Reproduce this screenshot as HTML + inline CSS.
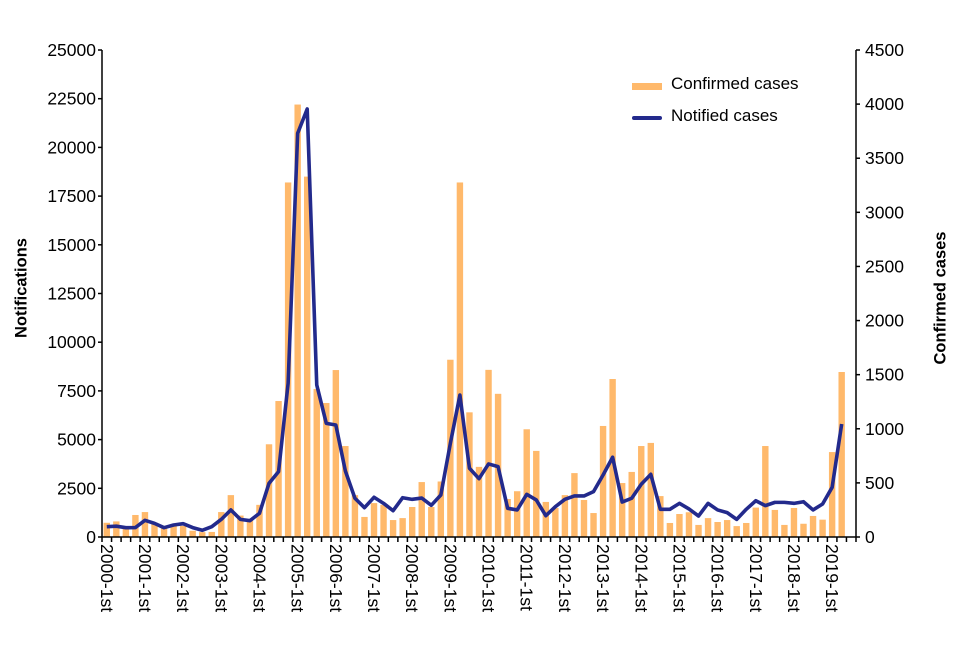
<!DOCTYPE html>
<html><head><meta charset="utf-8"><style>
body{margin:0;background:#fff;}
svg{font-family:"Liberation Sans",Arial,sans-serif;}
</style></head><body>
<svg id="c" width="960" height="640" viewBox="0 0 960 640"></svg>
<script>
const confirmedValues=[730,800,500,1130,1280,730,450,570,570,320,250,260,1280,2150,1100,900,1650,4760,6980,18200,22200,18500,7600,6880,8570,4670,2150,1030,1740,1650,870,970,1540,2820,1540,2850,9100,18200,6400,3600,8580,7350,1950,2350,5530,4420,1800,1490,2150,3280,1900,1230,5700,8110,2770,3340,4670,4830,2100,720,1180,1270,620,970,770,870,560,720,1510,4670,1390,620,1490,680,1080,890,4360,8470];
const notifiedValues=[95,100,86,87,154,126,86,111,123,87,62,95,163,250,163,151,219,496,604,1420,3730,3955,1405,1050,1035,610,358,271,367,311,243,363,348,360,293,388,866,1312,635,539,675,650,265,250,394,342,197,280,348,379,379,419,573,737,323,358,487,579,256,256,311,259,194,311,250,225,163,256,335,290,320,320,311,326,250,305,459,1044];
const yearLabels=[];for(let y=2000;y<=2019;y++)yearLabels.push(y+'-1st');
const leftTicks=[0,2500,5000,7500,10000,12500,15000,17500,20000,22500,25000];
const rightTicks=[0,500,1000,1500,2000,2500,3000,3500,4000,4500];
const NS='http://www.w3.org/2000/svg',svg=document.getElementById('c');
const X0=102,X1=856,Y0=537,Y1=50,nBands=79,bw=(X1-X0)/nBands;
const xC=i=>X0+bw*(i+0.5);
const yL=v=>Y0-(v/25000)*(Y0-Y1);
const yR=v=>Y0-(v/4500)*(Y0-Y1);
function mk(t,a,p){const e=document.createElementNS(NS,t);for(const k in a)e.setAttribute(k,a[k]);(p||svg).appendChild(e);return e;}
const bars=mk('g',{});


confirmedValues.forEach((v,i)=>{const r=mk('rect',{x:xC(i)-3.2,y:yL(v),width:6.4,height:Y0-yL(v),fill:'#ffb96b'},bars);

});
const pl=mk('polyline',{points:notifiedValues.map((v,i)=>xC(i)+','+yR(v)).join(' '),fill:'none',stroke:'#232a8c','stroke-width':3.6,'stroke-linejoin':'round'});


const ax=mk('g',{stroke:'#000','stroke-width':1.5});


mk('line',{x1:X0,y1:Y1,x2:X0,y2:Y0},ax);mk('line',{x1:X1,y1:Y1,x2:X1,y2:Y0},ax);mk('line',{x1:X0,y1:Y0,x2:X1,y2:Y0},ax);
for(let i=0;i<=nBands;i++)mk('line',{x1:X0+bw*i,y1:Y0,x2:X0+bw*i,y2:Y0+5},ax);
leftTicks.forEach(v=>{mk('line',{x1:X0-4,y1:yL(v),x2:X0,y2:yL(v)},ax);
const t=mk('text',{x:X0-6,y:yL(v)+6,'text-anchor':'end','font-size':17.5});t.textContent=v;

});
rightTicks.forEach(v=>{mk('line',{x1:X1,y1:yR(v),x2:X1+4,y2:yR(v)},ax);
const t=mk('text',{x:X1+9,y:yR(v)+6,'font-size':17.5});t.textContent=v;

});
yearLabels.forEach((l,k)=>{const x=xC(k*4)-6;const t=mk('text',{x:0,y:0,'font-size':17.5,transform:`translate(${x},544) rotate(90)`});t.textContent=l;

});
</script>
<div style="position:absolute;left:0;top:0;width:960px;height:640px;pointer-events:none;font-family:'Liberation Sans',Arial,sans-serif;">
<div style="position:absolute;left:22px;top:288px;transform:translate(-50%,-50%) rotate(-90deg);font-weight:bold;font-size:16.5px;white-space:nowrap;">Notifications</div>
<div style="position:absolute;left:941px;top:298px;transform:translate(-50%,-50%) rotate(-90deg);font-weight:bold;font-size:16.5px;white-space:nowrap;">Confirmed cases</div>
<div style="position:absolute;left:632px;top:74px;font-size:17px;white-space:nowrap;">
<div style="position:relative;height:32px;"><span style="position:absolute;left:0;top:9px;width:30px;height:7px;background:#ffb96b;"></span><span style="position:absolute;left:39px;top:0px;">Confirmed cases</span></div>
<div style="position:relative;height:32px;"><span style="position:absolute;left:0;top:10px;width:30px;height:3.5px;background:#232a8c;border-radius:2px;"></span><span style="position:absolute;left:39px;top:0px;">Notified cases</span></div>
</div></div>
</body></html>
